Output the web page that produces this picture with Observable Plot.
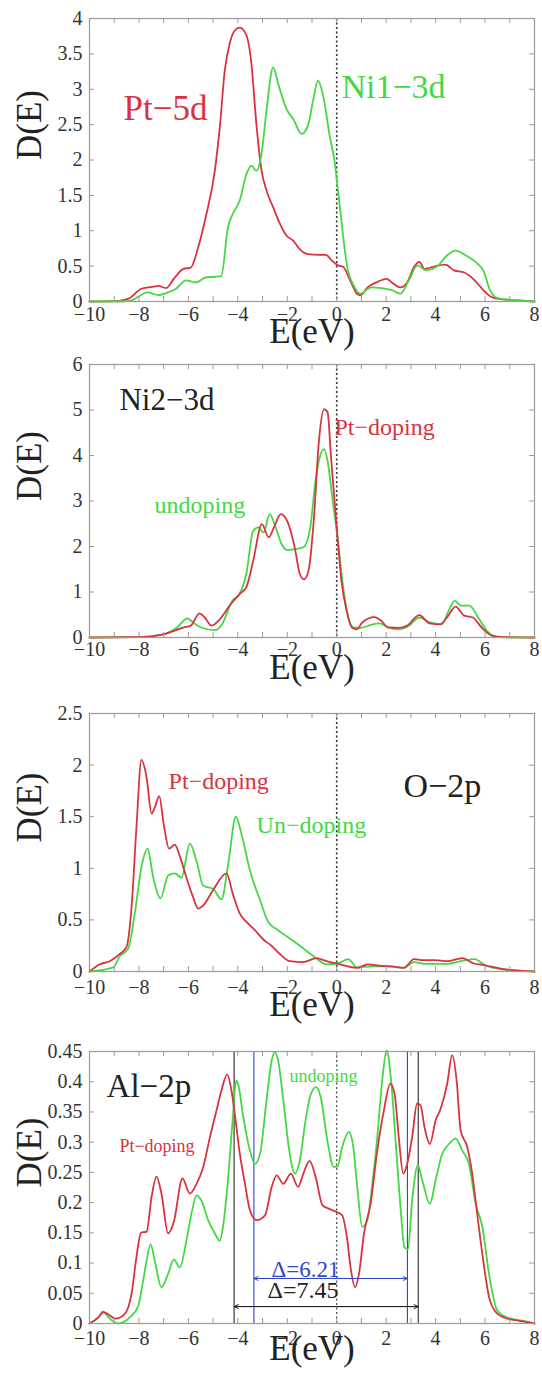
<!DOCTYPE html>
<html>
<head>
<meta charset="utf-8">
<script src="https://cdn.jsdelivr.net/npm/d3@7"></script>
<script src="https://cdn.jsdelivr.net/npm/@observablehq/plot@0.6"></script>
<style>
  html, body { margin: 0; padding: 0; background: #fff; }
  #chart { width: 542px; }
  #chart svg { overflow: visible; display: block; }
  #chart svg, #chart svg text, #chart svg g { font-family: "Liberation Serif", "DejaVu Serif", serif !important; }
</style>
</head>
<body>
<div id="chart"></div>
<script>
// ---------- shared axis values ----------
const xDomain = [-10, 8];
const xLabelTicks = [-10, -8, -6, -4, -2, 0, 2, 4, 6, 8];
const xMinorTicks = [-10, -9, -8, -7, -6, -5, -4, -3, -2, -1, 0, 1, 2, 3, 4, 5, 6, 7, 8];
const xAxisTitle = "E(eV)";
const yAxisTitle = "D(E)";

// ---------- panel 1 : Pt-5d / Ni1-3d ----------
const p1Ticks = [0, 0.5, 1, 1.5, 2, 2.5, 3, 3.5, 4];
const p1Pt5d = [[-10,0],[-9,0.005],[-8.8,0.01],[-8.37,0.05],[-7.9,0.18],[-7.4,0.21],[-7.22,0.22],[-6.9,0.19],[-6.55,0.34],[-6.2,0.46],[-5.9,0.48],[-5.6,0.77],[-5.3,1.19],[-4.93,1.85],[-4.73,2.46],[-4.53,3.26],[-4.32,3.66],[-4.1,3.84],[-3.92,3.87],[-3.65,3.76],[-3.45,3.36],[-3.25,2.51],[-3.04,1.85],[-2.84,1.57],[-2.57,1.33],[-2.3,1.10],[-2.03,0.93],[-1.76,0.86],[-1.5,0.74],[-1.16,0.67],[-0.7,0.66],[-0.44,0.66],[-0.2,0.58],[0.05,0.51],[0.26,0.49],[0.54,0.30],[0.82,0.11],[0.96,0.09],[1.25,0.20],[1.6,0.27],[2.02,0.32],[2.23,0.27],[2.57,0.20],[2.85,0.27],[3.13,0.49],[3.34,0.56],[3.55,0.46],[3.9,0.49],[4.39,0.52],[4.74,0.44],[5.16,0.41],[5.58,0.30],[5.93,0.16],[6.28,0.06],[6.7,0.03],[7.4,0.014],[8,0]];
const p1Ni1 = [[-10,0],[-8.8,0],[-8.37,0.01],[-7.63,0.13],[-7.22,0.09],[-6.9,0.12],[-6.5,0.18],[-6.1,0.30],[-5.7,0.27],[-5.3,0.34],[-4.93,0.35],[-4.67,0.36],[-4.4,1.05],[-4.2,1.24],[-3.92,1.43],[-3.65,1.80],[-3.45,1.92],[-3.25,1.85],[-3.04,2.09],[-2.84,2.70],[-2.57,3.31],[-2.37,3.08],[-2.03,2.72],[-1.76,2.58],[-1.42,2.37],[-1.16,2.49],[-0.95,2.85],[-0.76,3.12],[-0.51,2.84],[-0.3,2.37],[-0.09,1.99],[0.05,1.57],[0.19,1.14],[0.33,0.72],[0.45,0.45],[0.68,0.23],[0.96,0.11],[1.39,0.20],[1.81,0.19],[2.23,0.16],[2.57,0.11],[2.92,0.30],[3.27,0.51],[3.62,0.44],[4.04,0.49],[4.46,0.65],[4.81,0.72],[5.23,0.65],[5.71,0.53],[5.93,0.44],[6.2,0.16],[6.48,0.05],[7.1,0.02],[8,0]];

// ---------- panel 2 : Ni2-3d ----------
const p2Ticks = [0, 1, 2, 3, 4, 5, 6];
const p2Pt = [[-10,0],[-8,0.01],[-7.02,0.07],[-6.18,0.22],[-5.9,0.26],[-5.55,0.53],[-5.34,0.44],[-5.06,0.26],[-4.78,0.37],[-4.29,0.73],[-3.94,0.95],[-3.66,1.10],[-3.38,1.68],[-3.03,2.49],[-2.75,2.20],[-2.54,2.42],[-2.26,2.71],[-1.98,2.53],[-1.7,1.98],[-1.49,1.39],[-1.32,1.28],[-1.14,1.47],[-0.93,2.56],[-0.72,4.32],[-0.51,5.02],[-0.37,4.95],[-0.23,3.96],[0,2.42],[0.19,1.25],[0.4,0.59],[0.61,0.22],[0.82,0.18],[1.03,0.33],[1.52,0.45],[1.8,0.37],[2.08,0.22],[2.5,0.21],[2.85,0.26],[3.34,0.49],[3.76,0.31],[4.18,0.29],[4.46,0.44],[4.81,0.68],[5.16,0.48],[5.51,0.44],[5.86,0.22],[6.28,0.04],[6.7,0.01],[8,0]];
const p2Un = [[-10,0],[-8,0.01],[-7.02,0.07],[-6.46,0.22],[-6.04,0.42],[-5.76,0.31],[-5.48,0.22],[-4.92,0.16],[-4.64,0.29],[-4.22,0.81],[-3.94,0.95],[-3.66,1.39],[-3.38,2.34],[-3.17,2.42],[-2.96,2.31],[-2.71,2.71],[-2.47,2.42],[-2.19,2.01],[-1.98,1.92],[-1.7,1.94],[-1.35,1.98],[-1.07,2.42],[-0.86,3.44],[-0.65,4.03],[-0.51,4.14],[-0.37,3.88],[-0.16,3.00],[0.05,2.12],[0.26,1.10],[0.47,0.44],[0.68,0.22],[0.96,0.21],[1.38,0.28],[1.73,0.31],[2.08,0.22],[2.5,0.18],[2.92,0.26],[3.34,0.44],[3.76,0.33],[4.25,0.29],[4.53,0.59],[4.77,0.81],[5.02,0.70],[5.37,0.70],[5.72,0.44],[6.07,0.15],[6.42,0.02],[7,0],[8,0]];

// ---------- panel 3 : O-2p ----------
const p3Ticks = [0, 0.5, 1, 1.5, 2, 2.5];
const p3Pt = [[-10,0],[-9.58,0.07],[-9.18,0.10],[-8.77,0.17],[-8.5,0.24],[-8.3,0.62],[-8.1,1.40],[-7.9,2.05],[-7.69,1.88],[-7.49,1.53],[-7.36,1.59],[-7.18,1.70],[-7.0,1.43],[-6.78,1.19],[-6.55,1.23],[-6.35,1.12],[-6.08,0.91],[-5.81,0.72],[-5.6,0.61],[-5.4,0.64],[-5.0,0.79],[-4.46,0.95],[-4.2,0.75],[-3.92,0.56],[-3.65,0.48],[-3.31,0.40],[-2.97,0.31],[-2.64,0.25],[-2.3,0.17],[-1.9,0.10],[-1.36,0.09],[-0.82,0.13],[-0.41,0.10],[0.05,0.074],[0.82,0.035],[1.25,0.07],[1.8,0.055],[2.23,0.05],[2.71,0.035],[3.13,0.12],[3.48,0.11],[3.97,0.11],[4.46,0.10],[5.09,0.13],[5.51,0.08],[6.0,0.06],[6.7,0.026],[8,0]];
const p3Un = [[-10,0],[-9.04,0.04],[-8.77,0.15],[-8.44,0.22],[-8.17,0.56],[-7.9,1.01],[-7.65,1.19],[-7.42,0.91],[-7.13,0.71],[-6.82,0.93],[-6.55,0.95],[-6.28,0.91],[-5.94,1.24],[-5.67,1.07],[-5.4,0.83],[-5.0,0.80],[-4.66,0.70],[-4.39,1.04],[-4.08,1.50],[-3.85,1.33],[-3.51,0.98],[-3.1,0.69],[-2.77,0.48],[-2.37,0.40],[-1.96,0.33],[-1.49,0.25],[-0.95,0.15],[-0.41,0.07],[0.05,0.08],[0.47,0.12],[0.82,0.04],[1.38,0.05],[2.08,0.05],[2.71,0.035],[3.13,0.09],[3.62,0.074],[4.46,0.074],[5.02,0.10],[5.58,0.12],[6.0,0.06],[6.7,0.02],[8,0]];

// ---------- panel 4 : Al-2p ----------
const p4Ticks = [0, 0.05, 0.1, 0.15, 0.2, 0.25, 0.3, 0.35, 0.4, 0.45];
const p4Pt = [[-10,0],[-9.64,0.010],[-9.45,0.019],[-9.24,0.015],[-8.95,0.008],[-8.57,0.016],[-8.3,0.049],[-8.1,0.110],[-7.92,0.150],[-7.69,0.152],[-7.49,0.209],[-7.29,0.243],[-7.09,0.215],[-6.82,0.149],[-6.59,0.168],[-6.24,0.240],[-5.94,0.215],[-5.67,0.231],[-5.4,0.259],[-5.13,0.308],[-4.86,0.353],[-4.66,0.386],[-4.43,0.412],[-4.26,0.386],[-4.09,0.336],[-3.92,0.281],[-3.71,0.231],[-3.51,0.187],[-3.24,0.171],[-2.9,0.179],[-2.63,0.226],[-2.43,0.245],[-2.16,0.231],[-1.86,0.248],[-1.56,0.226],[-1.35,0.248],[-1.1,0.269],[-0.85,0.242],[-0.58,0.196],[-0.32,0.190],[0.02,0.184],[0.22,0.179],[0.43,0.137],[0.56,0.093],[0.74,0.060],[0.90,0.082],[1.10,0.148],[1.37,0.198],[1.64,0.286],[1.91,0.353],[2.17,0.397],[2.34,0.380],[2.51,0.308],[2.69,0.248],[2.85,0.264],[3.05,0.308],[3.25,0.364],[3.39,0.361],[3.55,0.325],[3.77,0.297],[4.0,0.336],[4.2,0.355],[4.47,0.397],[4.67,0.444],[4.85,0.402],[5.01,0.320],[5.28,0.292],[5.48,0.248],[5.68,0.182],[5.89,0.115],[6.16,0.044],[6.43,0.019],[6.76,0.010],[7.30,0.005],[8,0]];
const p4Un = [[-10,0],[-9.64,0.010],[-9.45,0.019],[-9.18,0.008],[-8.84,0],[-8.37,0.010],[-8.03,0.029],[-7.83,0.071],[-7.69,0.104],[-7.53,0.131],[-7.36,0.104],[-7.09,0.060],[-6.82,0.082],[-6.59,0.106],[-6.35,0.093],[-6.08,0.137],[-5.88,0.181],[-5.67,0.212],[-5.47,0.203],[-5.2,0.171],[-4.93,0.149],[-4.73,0.137],[-4.6,0.160],[-4.4,0.237],[-4.2,0.342],[-4.07,0.402],[-3.96,0.391],[-3.8,0.347],[-3.51,0.286],[-3.31,0.264],[-3.1,0.281],[-2.84,0.369],[-2.63,0.435],[-2.5,0.449],[-2.37,0.435],[-2.16,0.369],[-1.92,0.286],[-1.69,0.248],[-1.49,0.270],[-1.28,0.331],[-1.08,0.375],[-0.84,0.391],[-0.65,0.375],[-0.38,0.303],[-0.12,0.259],[0.02,0.259],[0.22,0.292],[0.49,0.317],[0.67,0.292],[0.83,0.226],[1.03,0.160],[1.23,0.170],[1.44,0.231],[1.64,0.308],[1.84,0.402],[2.02,0.452],[2.21,0.397],[2.38,0.303],[2.58,0.193],[2.74,0.126],[2.88,0.123],[3.05,0.203],[3.28,0.262],[3.46,0.237],[3.77,0.198],[4.0,0.237],[4.27,0.281],[4.54,0.297],[4.81,0.306],[5.08,0.286],[5.35,0.264],[5.62,0.198],[5.89,0.160],[6.16,0.082],[6.5,0.021],[6.9,0.010],[7.84,0.002],[8,0]];
const p4GapOuter = [-4.15, 3.30];   // Δ = 7.45
const p4GapInner = [-3.35, 2.86];   // Δ = 6.21
const p4ArrowLevels = [0.0745, 0.028];

// ---------- colours ----------
const RED = "#d8333f";
const GREEN = "#44d844";
const BLUE = "#3346c8";
const INK = "#222";
const FRAME = "#9a9a9a";
const SERIF = "Liberation Serif";

const fmtX = d => d < 0 ? "\u2212" + Math.abs(d) : String(d);

const panels = [
  { height: 340, mt: 18, mb: 39, yDomain: [0, 4], yTicks: p1Ticks, tickPad: 5, xTitleDy: 41,
    series: [{data: p1Pt5d, color: RED}, {data: p1Ni1, color: GREEN}],
    labels: [
      {x: -8.62, y: 2.56, text: "Pt\u22125d", fill: RED, size: 35},
      {x: 0.19, y: 2.88, text: "Ni1\u22123d", fill: GREEN, size: 34}
    ]},
  { height: 340, mt: 24, mb: 43, yDomain: [0, 6], yTicks: p2Ticks, tickPad: 4, xTitleDy: 41,
    series: [{data: p2Un, color: GREEN}, {data: p2Pt, color: RED}],
    labels: [
      {x: -8.79, y: 4.99, text: "Ni2\u22123d", fill: INK, size: 31},
      {x: -0.09, y: 4.44, text: "Pt\u2212doping", fill: RED, size: 24},
      {x: -7.37, y: 2.73, text: "undoping", fill: GREEN, size: 24}
    ]},
  { height: 340, mt: 33, mb: 49, yDomain: [0, 2.5], yTicks: p3Ticks, tickPad: 8, xTitleDy: 44,
    series: [{data: p3Un, color: GREEN}, {data: p3Pt, color: RED}],
    labels: [
      {x: -6.8, y: 1.77, text: "Pt\u2212doping", fill: RED, size: 24},
      {x: 2.70, y: 1.69, text: "O\u22122p", fill: INK, size: 34},
      {x: -3.24, y: 1.34, text: "Un\u2212doping", fill: GREEN, size: 24}
    ]},
  { height: 353, mt: 31, mb: 50, yDomain: [0, 0.45], yTicks: p4Ticks, tickPad: 7, xTitleDy: 36,
    series: [{data: p4Un, color: GREEN}, {data: p4Pt, color: RED}],
    labels: [
      {x: -9.31, y: 0.374, text: "Al\u22122p", fill: INK, size: 33},
      {x: -8.79, y: 0.283, text: "Pt\u2212doping", fill: RED, size: 18},
      {x: -1.91, y: 0.40, text: "undoping", fill: GREEN, size: 18},
      {x: -2.64, y: 0.077, text: "\u0394=6.21", fill: BLUE, size: 23},
      {x: -2.80, y: 0.043, text: "\u0394=7.45", fill: INK, size: 24}
    ],
    gaps: true }
];

const W = 542, ML = 89, MR = 8;
const innerW = W - ML - MR;
const TL = 5; // tick length

const chart = document.getElementById("chart");

panels.forEach((p) => {
  const innerH = p.height - p.mt - p.mb;
  const marks = [];

  if (p.gaps) {
    marks.push(Plot.ruleX(p4GapOuter, {x: d => d, stroke: "#555", strokeWidth: 1.4}));
    marks.push(Plot.ruleX(p4GapInner, {x: d => d, stroke: BLUE, strokeWidth: 1.1}));
  }

  // Fermi level
  marks.push(Plot.ruleX([0], {x: d => d, stroke: "#333", strokeWidth: p.gaps ? 1.1 : 1.6, strokeDasharray: "2,2.5"}));

  // curves
  p.series.forEach(s => {
    marks.push(Plot.line(s.data, {x: d => d[0], y: d => d[1], stroke: s.color, strokeWidth: 1.8, curve: "monotone-x"}));
  });

  if (p.gaps) {
    const arrows = [
      {a: p4GapInner[0], b: p4GapInner[1], y: p4ArrowLevels[0], c: BLUE},
      {a: p4GapInner[1], b: p4GapInner[0], y: p4ArrowLevels[0], c: BLUE},
      {a: p4GapOuter[0], b: p4GapOuter[1], y: p4ArrowLevels[1], c: "#222"},
      {a: p4GapOuter[1], b: p4GapOuter[0], y: p4ArrowLevels[1], c: "#222"}
    ];
    marks.push(Plot.arrow(arrows, {x1: d => d.a, x2: d => d.b, y1: d => d.y, y2: d => d.y, stroke: d => d.c, strokeWidth: 1, headLength: 7, headAngle: 50}));
  }

  // frame & inward ticks
  marks.push(Plot.frame({stroke: FRAME, strokeWidth: 1.2}));
  marks.push(Plot.ruleX(xMinorTicks, {x: d => d, insetTop: innerH - TL, stroke: FRAME}));
  marks.push(Plot.ruleX(xMinorTicks, {x: d => d, insetBottom: innerH - TL, stroke: FRAME}));
  marks.push(Plot.ruleY(p.yTicks, {y: d => d, insetRight: innerW - TL, stroke: FRAME}));
  marks.push(Plot.ruleY(p.yTicks, {y: d => d, insetLeft: innerW - TL, stroke: FRAME}));

  // tick labels
  marks.push(Plot.axisX(xLabelTicks, {tickSize: 0, tickPadding: p.tickPad, tickFormat: fmtX, fontSize: 20, fill: "#333", label: null, fontFamily: SERIF}));
  marks.push(Plot.axisY(p.yTicks, {tickSize: 0, tickPadding: 7, tickFormat: d => String(d), fontSize: 20, fill: "#333", label: null, fontFamily: SERIF}));

  // axis titles
  marks.push(Plot.text([xAxisTitle], {frameAnchor: "bottom", dy: p.xTitleDy, text: d => d, fontSize: 35, fill: "#222", fontFamily: SERIF}));
  marks.push(Plot.text([yAxisTitle], {frameAnchor: "left", dx: -60, rotate: -90, text: d => d, fontSize: 35, fill: "#222", fontFamily: SERIF}));

  // in-plot labels
  p.labels.forEach(l => {
    marks.push(Plot.text([l], {x: d => d.x, y: d => d.y, text: d => d.text, fill: l.fill, fontSize: l.size, textAnchor: "start", dy: -0.32 * l.size, fontFamily: SERIF}));
  });

  const svg = Plot.plot({
    width: W,
    height: p.height,
    marginLeft: ML,
    marginRight: MR,
    marginTop: p.mt,
    marginBottom: p.mb,
    x: {domain: xDomain},
    y: {domain: p.yDomain},
    style: "overflow: visible; background: transparent;",
    marks
  });
  chart.appendChild(svg);
});
</script>
</body>
</html>
